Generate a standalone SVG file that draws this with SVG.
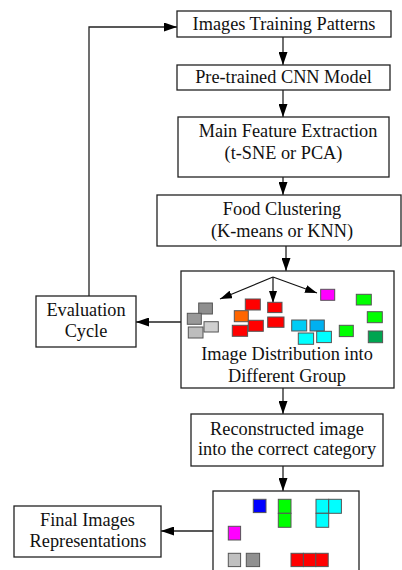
<svg xmlns="http://www.w3.org/2000/svg" width="402" height="570" viewBox="0 0 402 570">
<style>
.box{fill:#fff;stroke:#222;stroke-width:1.3}
.t{font-family:"Liberation Serif","Times New Roman",serif;font-size:18.3px;fill:#111;text-anchor:middle}
.c{fill:none;stroke:#222;stroke-width:1.3}
.ci{fill:none;stroke:#111;stroke-width:1.2}
.sq{stroke:#555;stroke-width:1}
</style>
<defs>
<marker id="ah" markerWidth="13" markerHeight="9" refX="13" refY="4.5" orient="auto" markerUnits="userSpaceOnUse">
<path d="M0,0 L13,4.5 L0,9 Z" fill="#000"/>
</marker>
<marker id="ahs" markerWidth="12" markerHeight="8" refX="12" refY="4" orient="auto" markerUnits="userSpaceOnUse">
<path d="M0,0 L12,4 L0,8 Z" fill="#000"/>
</marker>
</defs>
<rect width="402" height="570" fill="#fff"/>
<g id="connectors">
<path class="c" d="M283,37 V65" marker-end="url(#ah)"/>
<path class="c" d="M283,90 V117" marker-end="url(#ah)"/>
<path class="c" d="M283,177 V195" marker-end="url(#ah)"/>
<path class="c" d="M286,246 V271" marker-end="url(#ah)"/>
<path class="c" d="M181,322 H136" marker-end="url(#ah)"/>
<path class="c" d="M89,296 V27 H177" marker-end="url(#ah)"/>
<path class="c" d="M283,388 V414" marker-end="url(#ah)"/>
<path class="c" d="M283,466 V491" marker-end="url(#ah)"/>
<path class="c" d="M213,531 H161" marker-end="url(#ah)"/>
</g>
<g id="n1"><rect class="box" x="177" y="11" width="214" height="26"/><text class="t" x="284" y="30">Images Training Patterns</text></g>
<g id="n2"><rect class="box" x="177" y="65" width="213" height="25"/><text class="t" x="283.5" y="83">Pre-trained CNN Model</text></g>
<g id="n3"><rect class="box" x="178" y="117" width="211" height="60"/><text class="t" x="288" y="137">Main Feature Extraction</text><text class="t" x="283.5" y="159">(t-SNE or PCA)</text></g>
<g id="n4"><rect class="box" x="157" y="195" width="244" height="51"/><text class="t" x="282" y="215">Food Clustering</text><text class="t" x="282" y="237">(K-means or KNN)</text></g>
<g id="n5">
<rect class="box" x="181" y="271" width="213" height="117"/>
<path class="ci" d="M273,277 L220,299" marker-end="url(#ahs)"/>
<path class="ci" d="M273,277 V303" marker-end="url(#ahs)"/>
<path class="ci" d="M273,277 L317,293" marker-end="url(#ahs)"/>
<rect class="sq" x="198.7" y="303" width="13.7" height="11" fill="#8f8f8f"/>
<rect class="sq" x="187.3" y="313.3" width="14" height="11" fill="#999"/>
<rect class="sq" x="204" y="321.7" width="14.3" height="10.3" fill="#d0d0d0"/>
<rect class="sq" x="188.3" y="327" width="14.7" height="11" fill="#bdbdbd"/>
<rect class="sq" x="245.3" y="299" width="15" height="11" fill="#f00"/>
<rect class="sq" x="234.3" y="310.7" width="14" height="11" fill="#ff6600"/>
<rect class="sq" x="267.7" y="302.3" width="14.3" height="10.3" fill="#f00"/>
<rect class="sq" x="248.3" y="320.3" width="15" height="11" fill="#f00"/>
<rect class="sq" x="267.7" y="317" width="16.3" height="10.3" fill="#f00"/>
<rect class="sq" x="232.3" y="325.3" width="15.3" height="11" fill="#f00"/>
<rect class="sq" x="320.7" y="289.3" width="14" height="11" fill="#f0f"/>
<rect class="sq" x="291.7" y="320" width="15" height="11" fill="#00ccf5"/>
<rect class="sq" x="310" y="320" width="14.3" height="11" fill="#00b0f0"/>
<rect class="sq" x="298.3" y="333" width="15.3" height="11.3" fill="#0ff"/>
<rect class="sq" x="316.7" y="331.3" width="14.7" height="11.3" fill="#0ff"/>
<rect class="sq" x="356.3" y="294.3" width="15" height="10.7" fill="#0f0"/>
<rect class="sq" x="367.3" y="311.7" width="15" height="11" fill="#0f0"/>
<rect class="sq" x="339.3" y="325.3" width="14" height="11.3" fill="#0f0"/>
<rect class="sq" x="368.3" y="331" width="14.3" height="11.7" fill="#00a550"/>
<text class="t" x="287" y="360">Image Distribution into</text>
<text class="t" x="287" y="382">Different Group</text>
</g>
<g id="n6"><rect class="box" x="36" y="296" width="100" height="51"/><text class="t" x="86" y="316">Evaluation</text><text class="t" x="86" y="337">Cycle</text></g>
<g id="n7"><rect class="box" x="191" y="414" width="192" height="52"/><text class="t" x="287" y="435">Reconstructed image</text><text class="t" x="287" y="455">into the correct category</text></g>
<g id="n8">
<rect class="box" x="213" y="491" width="146" height="95"/>
<rect class="sq" x="253.3" y="499.3" width="12.7" height="13.3" fill="#0000ff"/>
<rect class="sq" x="278.3" y="499.3" width="12.7" height="14" fill="#0f0"/>
<rect class="sq" x="278.3" y="513.3" width="12.7" height="14" fill="#0f0"/>
<rect class="sq" x="316" y="499.3" width="12.7" height="14" fill="#0ff"/>
<rect class="sq" x="328.7" y="499.3" width="12.7" height="14" fill="#0ff"/>
<rect class="sq" x="316" y="513.3" width="12.7" height="14" fill="#0ff"/>
<rect class="sq" x="228.3" y="526.3" width="12.3" height="13.7" fill="#f0f"/>
<rect class="sq" x="228.3" y="553.3" width="12.3" height="13.3" fill="#c0c0c0"/>
<rect class="sq" x="246.3" y="553.3" width="13.3" height="13.3" fill="#909090"/>
<rect class="sq" x="291" y="553.3" width="12.4" height="13.3" fill="#f00"/>
<rect class="sq" x="303.4" y="553.3" width="12.4" height="13.3" fill="#f00"/>
<rect class="sq" x="315.8" y="553.3" width="12.4" height="13.3" fill="#f00"/>
</g>
<g id="n9"><rect class="box" x="14" y="506" width="147" height="51"/><text class="t" x="87.5" y="526">Final Images</text><text class="t" x="88" y="547">Representations</text></g>
</svg>
